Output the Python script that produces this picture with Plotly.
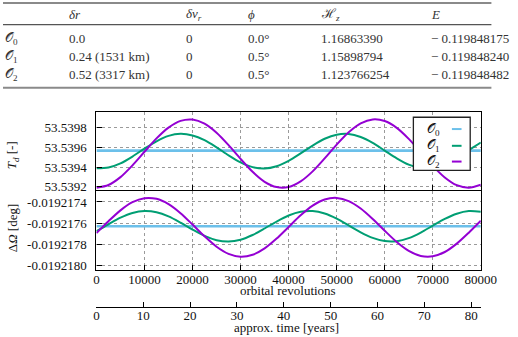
import plotly.graph_objects as go

# ---------------- data ----------------
table_header = ["<i>δr</i>", "<i>δv<sub>r</sub></i>", "<i>ϕ</i>", "ℋ<sub><i>z</i></sub>", "<i>E</i>"]
row_labels = ["𝒪<sub>0</sub>", "𝒪<sub>1</sub>", "𝒪<sub>2</sub>"]
col_dr = ["0.0", "0.24 (1531 km)", "0.52 (3317 km)"]
col_dvr = ["0", "0", "0"]
col_phi = ["0.0°", "0.5°", "0.5°"]
col_hz = ["1.16863390", "1.15898794", "1.123766254"]
col_e = ["− 0.119848175", "− 0.119848240", "− 0.119848482"]

orbits = [0, 2500, 5000, 7500, 10000, 12500, 15000, 17500, 20000, 22500, 25000,
          27500, 30000, 32500, 35000, 37500, 40000, 42500, 45000, 47500, 50000,
          52500, 55000, 57500, 60000, 62500, 65000, 67500, 70000, 72500, 75000,
          77500, 80000]

td_o0 = [53.539566] * len(orbits)
td_o1 = [53.539387, 53.539395, 53.539437, 53.539506, 53.539586, 53.539660, 53.539714,
         53.539735, 53.539719, 53.539671, 53.539599, 53.539518, 53.539447, 53.539399,
         53.539385, 53.539408, 53.539462, 53.539537, 53.539617, 53.539685, 53.539726,
         53.539733, 53.539703, 53.539644, 53.539566, 53.539488, 53.539424, 53.539389,
         53.539390, 53.539426, 53.539491, 53.539570, 53.539647]
td_o2 = [53.539191, 53.539219, 53.539298, 53.539417, 53.539554, 53.539689, 53.539798,
         53.539866, 53.539879, 53.539837, 53.539746, 53.539621, 53.539482, 53.539352,
         53.539251, 53.539198, 53.539199, 53.539255, 53.539356, 53.539487, 53.539626,
         53.539750, 53.539840, 53.539880, 53.539864, 53.539795, 53.539684, 53.539549,
         53.539412, 53.539295, 53.539217, 53.539191, 53.539221]

dom_o0 = [-0.0192176300] * len(orbits)
dom_o1 = [-0.0192176774, -0.0192176113, -0.0192175491, -0.0192175040, -0.0192174852,
          -0.0192174968, -0.0192175363, -0.0192175955, -0.0192176619, -0.0192177216,
          -0.0192177621, -0.0192177749, -0.0192177573, -0.0192177130, -0.0192176514,
          -0.0192175852, -0.0192175284, -0.0192174929, -0.0192174862, -0.0192175096,
          -0.0192175583, -0.0192176220, -0.0192176873, -0.0192177407, -0.0192177708,
          -0.0192177714, -0.0192177424, -0.0192176898, -0.0192176246, -0.0192175606,
          -0.0192175111, -0.0192174866, -0.0192174921]
dom_o2 = [-0.0192176952, -0.0192175827, -0.0192174795, -0.0192174024, -0.0192173640,
          -0.0192173703, -0.0192174206, -0.0192175064, -0.0192176140, -0.0192177258,
          -0.0192178237, -0.0192178917, -0.0192179188, -0.0192179006, -0.0192178400,
          -0.0192177471, -0.0192176366, -0.0192175268, -0.0192174353, -0.0192173770,
          -0.0192173616, -0.0192173914, -0.0192174615, -0.0192175607, -0.0192176728,
          -0.0192177794, -0.0192178636, -0.0192179113, -0.0192179150, -0.0192178739,
          -0.0192177947, -0.0192176907, -0.0192175782]

x_ticks = [0, 10000, 20000, 30000, 40000, 50000, 60000, 70000, 80000]
year_ticks = [0, 10, 20, 30, 40, 50, 60, 70, 80]
td_ticks = [53.5392, 53.5394, 53.5396, 53.5398]
dom_ticks = [-0.0192180, -0.0192178, -0.0192176, -0.0192174]
legend_labels = ["𝒪<sub>0</sub>", "𝒪<sub>1</sub>", "𝒪<sub>2</sub>"]

# ---------------- style ----------------
W, H = 518, 337
FONT = "Liberation Serif, Times New Roman, DejaVu Serif, serif"
colors = ["#6cc0ea", "#009e73", "#9400d3"]
widths = [2.6, 2.0, 2.0]


def px(x):
    return x / W


def py(y):
    return 1 - y / H


fig = go.Figure()

for vals, c, w in zip([td_o0, td_o1, td_o2], colors, widths):
    fig.add_trace(go.Scatter(x=orbits, y=vals, xaxis="x2", yaxis="y2", mode="lines",
                             line=dict(color=c, width=w, shape="spline", smoothing=0.8),
                             showlegend=False, hoverinfo="skip"))
for vals, c, w in zip([dom_o0, dom_o1, dom_o2], colors, widths):
    fig.add_trace(go.Scatter(x=orbits, y=vals, xaxis="x", yaxis="y", mode="lines",
                             line=dict(color=c, width=w, shape="spline", smoothing=0.8),
                             showlegend=False, hoverinfo="skip"))
# carrier for the years axis
fig.add_trace(go.Scatter(x=[year_ticks[0], year_ticks[-1]], y=[None, None], xaxis="x3", yaxis="y",
                         mode="lines", showlegend=False, hoverinfo="skip"))

xdom = [px(97), px(496)]
tickfont = dict(family=FONT, size=13, color="#111")
axis_common = dict(showline=True, mirror=True, linecolor="black", linewidth=1.3,
                   ticks="inside", ticklen=5, tickcolor="black", tickwidth=1,
                   showgrid=True, gridcolor="#9a9a9a", griddash="dot", gridwidth=1,
                   zeroline=False, tickfont=tickfont)

fig.update_layout(
    width=W, height=H, margin=dict(l=0, r=0, t=0, b=0),
    paper_bgcolor="white", plot_bgcolor="white",
    font=dict(family=FONT, size=13, color="#111"),
    xaxis=dict(domain=xdom, range=[0, 80000], anchor="y", tickvals=x_ticks,
               ticktext=[str(v) for v in x_ticks], ticklabelstandoff=-3, **axis_common),
    xaxis2=dict(domain=xdom, range=[0, 80000], anchor="y2", tickvals=x_ticks,
                showticklabels=False, **axis_common),
    yaxis=dict(domain=[py(274), py(194)], range=[-0.0192180439, -0.0192172973], anchor="x",
               tickvals=dom_ticks, ticktext=[f"{v:.7f}" for v in dom_ticks],
               ticklabelstandoff=6, **axis_common),
    yaxis2=dict(domain=[py(192.7), py(113.5)], range=[53.539170, 53.539957], anchor="x2",
                tickvals=td_ticks, ticktext=[f"{v:.4f}" for v in td_ticks],
                ticklabelstandoff=6, **axis_common),
    xaxis3=dict(overlaying="x", anchor="free", position=py(312), side="bottom",
                range=[0, 82.06], tickvals=year_ticks, ticktext=[str(v) for v in year_ticks],
                showline=True, linecolor="black", linewidth=1.3, ticks="inside", ticklen=5,
                tickcolor="black", showgrid=False, zeroline=False, ticklabelstandoff=-4,
                tickfont=tickfont),
)

shapes = []
annotations = []

# ---- table ----
shapes.append(dict(type="line", xref="paper", yref="paper", x0=0, x1=px(507), y0=py(3), y1=py(3),
                   line=dict(color="#8a8a8a", width=2)))
shapes.append(dict(type="line", xref="paper", yref="paper", x0=0, x1=px(507), y0=py(25), y1=py(25),
                   line=dict(color="#555555", width=1.3)))
shapes.append(dict(type="line", xref="paper", yref="paper", x0=0, x1=px(507), y0=py(89), y1=py(89),
                   line=dict(color="#8a8a8a", width=2)))

col_x = [66, 188, 252, 328, 442]
head_x = [66, 188, 252, 328, 442]
row_y = [39, 57.5, 76]
tfont = dict(family=FONT, size=13, color="#333")
for hx, h in zip(head_x, table_header):
    annotations.append(dict(xref="paper", yref="paper", x=px(hx), y=py(15), text=h, showarrow=False,
                            xanchor="left", yanchor="middle", font=tfont))
for i, ry in enumerate(row_y):
    annotations.append(dict(xref="paper", yref="paper", x=px(0), y=py(ry), text=row_labels[i],
                            showarrow=False, xanchor="left", yanchor="middle", font=tfont))
    for cx, col in zip(col_x, [col_dr, col_dvr, col_phi, col_hz, col_e]):
        annotations.append(dict(xref="paper", yref="paper", x=px(cx), y=py(ry), text=col[i],
                                showarrow=False, xanchor="left", yanchor="middle", font=tfont))

# ---- axis titles ----
afont = dict(family=FONT, size=13, color="#111")
annotations.append(dict(xref="paper", yref="paper", x=px(10), y=py(158), text="<i>T<sub>d</sub></i> [-]",
                        textangle=-90, showarrow=False, xanchor="center", yanchor="middle", font=afont))
annotations.append(dict(xref="paper", yref="paper", x=px(10), y=py(232), text="Δ<i>Ω</i> [deg]",
                        textangle=-90, showarrow=False, xanchor="center", yanchor="middle", font=afont))
annotations.append(dict(xref="paper", yref="paper", x=px(296), y=py(295), text="orbital revolutions",
                        showarrow=False, xanchor="center", yanchor="middle", font=afont))
annotations.append(dict(xref="paper", yref="paper", x=px(294), y=py(332), text="approx. time [years]",
                        showarrow=False, xanchor="center", yanchor="middle", font=afont))

# ---- legend box ----
shapes.append(dict(type="rect", xref="paper", yref="paper", x0=px(426), x1=px(485), y0=py(173), y1=py(119),
                   fillcolor="white", line=dict(color="#222", width=1.3), layer="above"))
leg_y = [131, 148, 164]
for lab, c, ly in zip(legend_labels, colors, leg_y):
    annotations.append(dict(xref="paper", yref="paper", x=px(456), y=py(ly), text=lab, showarrow=False,
                            xanchor="right", yanchor="middle", font=afont))
    shapes.append(dict(type="line", xref="paper", yref="paper", x0=px(466), x1=px(476), y0=py(ly), y1=py(ly),
                       line=dict(color=c, width=2), layer="above"))

fig.update_layout(shapes=shapes, annotations=annotations)
fig.write_html("out.html")
